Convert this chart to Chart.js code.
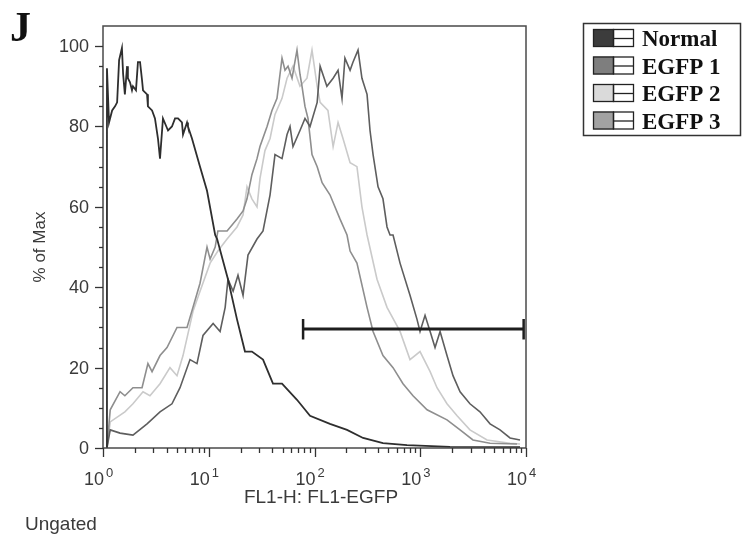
<!DOCTYPE html>
<html>
<head>
<meta charset="utf-8">
<script src="https://cdn.jsdelivr.net/npm/chart.js@4.4.1/dist/chart.umd.min.js"></script>
<style>
  html, body { margin: 0; padding: 0; background: #fff; }
  #wrap { width: 743px; height: 534px; }
</style>
</head>
<body>
<div id="wrap"><canvas id="chart" width="743" height="534"></canvas></div>
<script>
// Histogram traces: [FL1-EGFP intensity, % of Max]
const normalTrace = [
  [1.09, 0], [1.09, 94.5], [1.14, 81], [1.22, 84], [1.30, 85], [1.36, 86], [1.42, 96.5],
  [1.51, 99.5], [1.55, 93], [1.61, 88], [1.69, 95], [1.72, 92], [1.80, 91], [1.88, 89],
  [1.92, 90], [2.05, 89], [2.14, 96], [2.24, 96], [2.34, 91.5], [2.39, 89], [2.61, 88],
  [2.66, 85], [2.91, 84], [3.10, 82], [3.31, 77], [3.46, 72], [3.69, 82], [4.12, 79],
  [4.49, 80], [4.80, 82], [5.12, 82], [5.58, 81], [5.71, 78], [6.23, 81], [6.36, 80],
  [6.94, 77], [8.27, 70], [9.63, 64], [11.5, 53], [12.0, 52], [15.2, 42],
  [18.5, 32], [22.0, 24], [25.6, 24], [32.6, 22], [40.5, 16], [49.3, 16], [68.3, 12],
  [90.7, 8], [140, 6], [203, 4.5], [288, 2.5], [444, 1.2], [749, 0.7], [1910, 0.3], [8780, 0.2]
];
const egfp1Trace = [
  [1.09, 0], [1.17, 4.5], [1.45, 3.7], [1.92, 3.2], [2.61, 6], [3.46, 9], [4.49, 11],
  [5.35, 15], [6.65, 22], [7.74, 21], [8.82, 28], [11.0, 31], [12.8, 29], [14.3, 35],
  [15.2, 42], [17.0, 39], [18.9, 43], [21.1, 38], [23.5, 48], [28.6, 52], [32.6, 54],
  [38.0, 63], [42.3, 73], [49.3, 72], [55.0, 78], [58.7, 80], [62.6, 75], [72.9, 79],
  [81.3, 82], [90.7, 80], [106, 86], [113, 95], [131, 90], [150, 92], [167, 94],
  [182, 87], [194, 97], [217, 94], [231, 96], [258, 99], [281, 92], [314, 88],
  [335, 79], [358, 73], [399, 65], [444, 62], [485, 55], [518, 53], [553, 53],
  [644, 46], [800, 38], [932, 32], [995, 29], [1110, 33], [1240, 29], [1380, 25],
  [1540, 29], [1790, 23], [2040, 18], [2380, 14], [2950, 11], [3670, 9], [4570, 6],
  [5680, 4.5], [7060, 2.5], [8780, 2]
];
const egfp2Trace = [
  [1.09, 0], [1.17, 6.5], [1.61, 9], [1.92, 11], [2.39, 14], [2.78, 13], [3.46, 16],
  [4.30, 20], [5.01, 18], [5.71, 23], [7.10, 34], [8.27, 39], [10.3, 46], [12.2, 49],
  [14.9, 52], [18.5, 55], [21.1, 58], [23.0, 65], [25.6, 62], [28.6, 60], [30.5, 67],
  [34.0, 74], [38.0, 77], [42.3, 83], [49.3, 87], [55.0, 92], [62.6, 95], [72.9, 90],
  [84.9, 92], [94.7, 99], [106, 90], [113, 86], [134, 84], [150, 75], [167, 81],
  [186, 77], [217, 71], [252, 70], [281, 60], [314, 53], [390, 42], [485, 35],
  [644, 29], [800, 22], [995, 24], [1240, 19], [1440, 15], [1790, 11], [2230, 8],
  [2950, 4.5], [4280, 2], [7060, 1.2], [8780, 1]
];
const egfp3Trace = [
  [1.09, 0], [1.17, 9.5], [1.45, 14], [1.61, 13], [1.92, 15], [2.34, 15], [2.66, 21],
  [2.91, 19], [3.46, 23], [4.03, 25], [5.01, 30], [6.23, 30], [7.10, 35], [8.27, 41],
  [9.63, 50], [10.3, 47], [11.5, 50], [12.2, 54], [14.9, 54], [18.5, 57], [21.1, 59],
  [23.0, 62], [25.6, 68], [28.6, 72], [30.5, 75], [35.6, 80], [39.6, 84], [44.2, 87],
  [49.3, 97], [52.6, 94], [56.2, 95], [61.3, 92], [68.3, 99], [72.9, 93], [76.2, 90],
  [81.3, 85], [86.8, 82], [94.7, 73], [106, 70], [118, 66], [140, 63], [174, 57],
  [203, 53], [217, 49], [252, 46], [314, 35], [358, 29], [444, 23], [553, 20],
  [687, 16], [854, 13], [1160, 9.5], [1790, 7], [2380, 4.5], [3150, 2], [4570, 1.2], [8220, 1]
];

const seriesNames = ['Normal', 'EGFP 1', 'EGFP 2', 'EGFP 3'];
const seriesColors = ['#2e2e2e', '#5e5e5e', '#cacaca', '#8e8e8e'];
const swatchColors = ['#3c3c3c', '#7e7e7e', '#dadada', '#a2a2a2'];

const yTicks = [0, 20, 40, 60, 80, 100];
const xDecades = [0, 1, 2, 3, 4];

// gate marker (M1 region)
const gateFrom = 78;
const gateTo = 9500;
const gateLevel = 29.6;

const SANS = '"Liberation Sans", Arial, sans-serif';
const SERIF = '"Liberation Serif", "Times New Roman", serif';

function toPoints(trace) {
  return trace.map(p => ({ x: p[0], y: p[1] }));
}

// Frame, ticks, labels, gate bar and legend box
const decorPlugin = {
  id: 'decor',
  afterDatasetsDraw(chart) {
    const ctx = chart.ctx;
    const a = chart.chartArea;
    const xs = chart.scales.x;
    const ys = chart.scales.y;

    ctx.save();
    // frame
    ctx.strokeStyle = '#4a4a4a';
    ctx.lineWidth = 1.5;
    ctx.strokeRect(a.left, a.top, a.right - a.left, a.bottom - a.top);

    // y ticks every 5, labels every 20
    ctx.strokeStyle = '#333';
    ctx.lineWidth = 1.3;
    for (let v = 0; v <= 100; v += 5) {
      const py = Math.round(ys.getPixelForValue(v)) + 0.5;
      const len = v % 20 === 0 ? 8 : 4;
      ctx.beginPath();
      ctx.moveTo(a.left - len, py);
      ctx.lineTo(a.left, py);
      ctx.stroke();
    }
    ctx.fillStyle = '#3a3a3a';
    ctx.font = '18px ' + SANS;
    ctx.textAlign = 'right';
    ctx.textBaseline = 'middle';
    yTicks.forEach(v => {
      ctx.fillText(String(v), a.left - 14, ys.getPixelForValue(v) + 1);
    });

    // x ticks: decades long, 2..9 short
    xDecades.forEach(d => {
      const base = Math.pow(10, d);
      const px = Math.round(xs.getPixelForValue(base)) + 0.5;
      ctx.beginPath();
      ctx.moveTo(px, a.bottom);
      ctx.lineTo(px, a.bottom + 9);
      ctx.stroke();
      if (d < 4) {
        for (let m = 2; m <= 9; m++) {
          const mx = Math.round(xs.getPixelForValue(m * base)) + 0.5;
          ctx.beginPath();
          ctx.moveTo(mx, a.bottom);
          ctx.lineTo(mx, a.bottom + 5);
          ctx.stroke();
        }
      }
    });
    ctx.textBaseline = 'alphabetic';
    xDecades.forEach(d => {
      const px = xs.getPixelForValue(Math.pow(10, d));
      ctx.font = '18px ' + SANS;
      ctx.textAlign = 'right';
      ctx.fillText('10', px + 1, a.bottom + 37);
      ctx.font = '13px ' + SANS;
      ctx.textAlign = 'left';
      ctx.fillText(String(d), px + 3, a.bottom + 29);
    });

    // axis titles
    ctx.font = '19px ' + SANS;
    ctx.textAlign = 'center';
    ctx.fillText('FL1-H: FL1-EGFP', 321, 503);
    ctx.textAlign = 'left';
    ctx.fillText('Ungated', 25, 530);
    ctx.save();
    ctx.translate(45, 247);
    ctx.rotate(-Math.PI / 2);
    ctx.font = '17px ' + SANS;
    ctx.textAlign = 'center';
    ctx.fillText('% of Max', 0, 0);
    ctx.restore();

    // panel letter
    ctx.fillStyle = '#111';
    ctx.font = 'bold 42px ' + SERIF;
    ctx.textAlign = 'left';
    ctx.fillText('J', 10, 41);

    // gate bar
    const gx1 = xs.getPixelForValue(gateFrom);
    const gx2 = xs.getPixelForValue(gateTo);
    const gy = ys.getPixelForValue(gateLevel);
    ctx.strokeStyle = '#1e1e1e';
    ctx.lineWidth = 3;
    ctx.beginPath();
    ctx.moveTo(gx1, gy);
    ctx.lineTo(gx2, gy);
    ctx.stroke();
    ctx.lineWidth = 2.5;
    [gx1, gx2].forEach(gx => {
      ctx.beginPath();
      ctx.moveTo(gx, ys.getPixelForValue(gateLevel + 2.5));
      ctx.lineTo(gx, ys.getPixelForValue(gateLevel - 2.6));
      ctx.stroke();
    });

    // legend box
    ctx.strokeStyle = '#333';
    ctx.lineWidth = 1.5;
    ctx.strokeRect(583.5, 23.5, 157, 112);
    seriesNames.forEach((name, i) => {
      const cy = 38 + i * 27.5;
      ctx.fillStyle = swatchColors[i];
      ctx.fillRect(593, cy - 9, 20, 18);
      ctx.strokeStyle = '#222';
      ctx.lineWidth = 1.3;
      ctx.strokeRect(593.5, cy - 8.5, 20, 17);
      ctx.strokeRect(613.5, cy - 8.5, 20, 17);
      ctx.beginPath();
      ctx.moveTo(613.5, cy + 0.5);
      ctx.lineTo(633.5, cy + 0.5);
      ctx.stroke();
      ctx.fillStyle = '#111';
      ctx.font = 'bold 23px ' + SERIF;
      ctx.fillText(name, 642, cy + 8);
    });
    ctx.restore();
  }
};

const traces = [normalTrace, egfp1Trace, egfp2Trace, egfp3Trace];
const datasets = traces.map((t, i) => ({
  label: seriesNames[i],
  data: toPoints(t),
  showLine: true,
  borderColor: seriesColors[i],
  borderWidth: i === 0 ? 1.8 : 1.6,
  pointRadius: 0,
  tension: 0,
  fill: false
}));
// light trace drawn underneath the darker ones
datasets[2].order = 3;
datasets[3].order = 2;
datasets[1].order = 1;
datasets[0].order = 0;

new Chart(document.getElementById('chart'), {
  type: 'scatter',
  data: { datasets: datasets },
  options: {
    responsive: false,
    animation: false,
    devicePixelRatio: 1,
    layout: { padding: { left: 103, top: 26, right: 217, bottom: 86 } },
    plugins: { legend: { display: false }, tooltip: { enabled: false } },
    scales: {
      x: { type: 'logarithmic', min: 1, max: 10000, display: false },
      y: { type: 'linear', min: 0, max: 105, display: false }
    }
  },
  plugins: [decorPlugin]
});
</script>
</body>
</html>
